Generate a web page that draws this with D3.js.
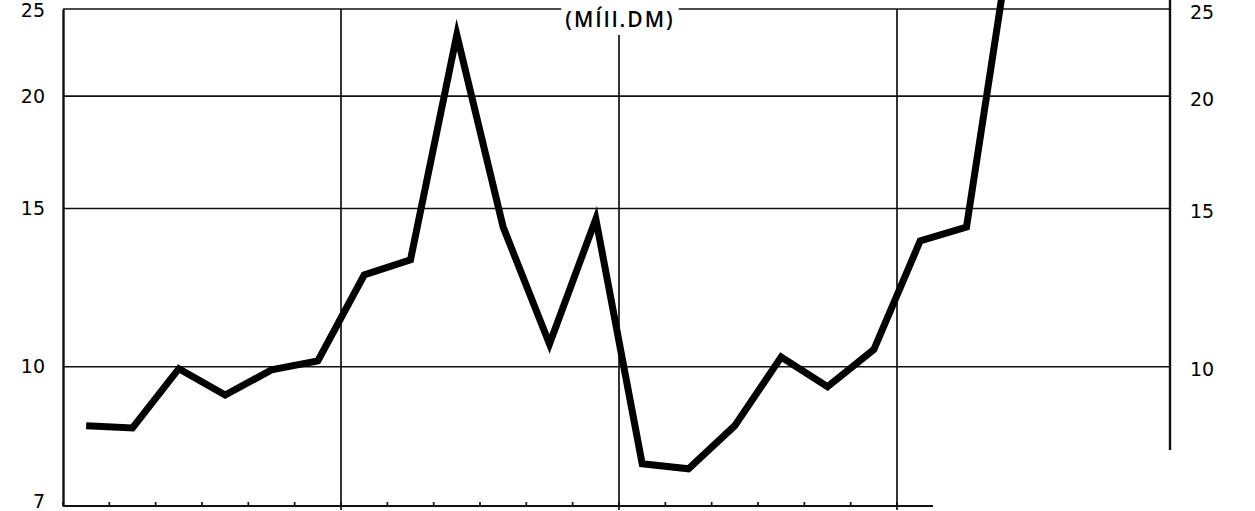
<!DOCTYPE html>
<html>
<head>
<meta charset="utf-8">
<script src="https://cdn.jsdelivr.net/npm/d3@7"></script>
<style>
  html, body { margin: 0; padding: 0; background: #fff; }
  svg { display: block; }
</style>
</head>
<body>
<div id="chart"></div>
<script>
// periods along the x axis (unlabelled in the original)
const periods = d3.range(1, 22).map(String);
// values in millions DM
const values = [8.6, 8.55, 9.95, 9.3, 9.92, 10.15, 12.65, 13.15, 23.4, 14.3, 10.6,
  14.6, 7.8, 7.7, 8.6, 10.25, 9.5, 10.45, 13.8, 14.3, 31];
const leftTicks = [7, 10, 15, 20, 25];
const rightTicks = [10, 15, 20, 25];
const gridTicks = [10, 15, 20, 25];
const titleText = "(MÍll.DM)";

const W = 1255, H = 511;
const left = 63, right = 1170, step = (897 - 63) / 18;

function styleLabels(g) {
  g.selectAll("text")
    .attr("font-family", null).attr("font-size", null)
    .style("font-family", "'DejaVu Sans', sans-serif")
    .style("font-size", "19px")
    .style("fill", "#000");
}

const svg = d3.select("#chart").append("svg")
  .attr("width", W).attr("height", H);

const x = d3.scaleBand()
  .domain(periods)
  .range([left, left + periods.length * step])
  .paddingInner(0).paddingOuter(0);

const y = d3.scaleLog()
  .domain([7, 25])
  .range([506, 9]);

// boundaries between periods
const bounds = periods.slice(0, 19).map((p) => x(p));
const bottomEnd = 933;

// horizontal grid
svg.append("g")
  .selectAll("line")
  .data(gridTicks)
  .enter()
  .append("line")
  .attr("x1", left).attr("x2", right)
  .attr("y1", (d) => y(d)).attr("y2", (d) => y(d))
  .attr("stroke", "#111").attr("stroke-width", 1.6);

// vertical grid every 6 periods
svg.append("g")
  .selectAll("line")
  .data([6, 12, 18])
  .enter()
  .append("line")
  .attr("x1", (k) => bounds[k]).attr("x2", (k) => bounds[k])
  .attr("y1", (k) => (k === 12 ? 35 : y(25)))
  .attr("y2", y(7) + 4)
  .attr("stroke", "#111").attr("stroke-width", 1.7);

// left axis
const leftAxis = d3.axisLeft(y).tickValues(leftTicks).tickSize(0).tickPadding(18)
  .tickFormat(d3.format("d"));
svg.append("g")
  .attr("transform", "translate(" + left + ",0)")
  .call(leftAxis)
  .call((g) => g.select(".domain").attr("stroke", "#111").attr("stroke-width", 2.4))
  .call(styleLabels)
  .call((g) => g.selectAll(".tick").filter((d) => d === 7).select("text").attr("dy", "0.08em"))
  .call((g) => g.selectAll(".tick").filter((d) => d === 25).select("text").attr("dy", "0.38em"));

// right axis, runs off the top of the frame
const rightAxis = d3.axisRight(y).tickValues(rightTicks).tickSize(0).tickPadding(20)
  .tickFormat(d3.format("d"));
svg.append("g")
  .attr("transform", "translate(" + right + ",3)")
  .call(rightAxis)
  .call((g) => g.select(".domain").remove())
  .call(styleLabels);
svg.append("line")
  .attr("x1", right).attr("x2", right)
  .attr("y1", 0).attr("y2", 450)
  .attr("stroke", "#111").attr("stroke-width", 2.4);

// bottom axis with small inward ticks
svg.append("line")
  .attr("x1", left).attr("x2", bottomEnd)
  .attr("y1", y(7)).attr("y2", y(7))
  .attr("stroke", "#111").attr("stroke-width", 2.2);
svg.append("g")
  .selectAll("line")
  .data(bounds)
  .enter()
  .append("line")
  .attr("x1", (d) => d).attr("x2", (d) => d)
  .attr("y1", y(7)).attr("y2", y(7) - 4)
  .attr("stroke", "#111").attr("stroke-width", 1.7);

// title breaking the top grid line
const tg = svg.append("g");
const tt = tg.append("text")
  .attr("x", 620).attr("y", 27)
  .attr("text-anchor", "middle")
  .style("font-family", "'Open Sans', sans-serif")
  .style("font-size", "21px")
  .style("font-weight", 600)
  .style("letter-spacing", "2px")
  .style("fill", "#000")
  .text(titleText);
const bb = tt.node().getBBox();
tg.insert("rect", "text")
  .attr("x", bb.x - 4).attr("y", y(25) - 3)
  .attr("width", bb.width + 8).attr("height", 6)
  .attr("fill", "#fff");

// the series
const line = d3.line()
  .x((d, i) => x(periods[i]) + x.bandwidth() / 2)
  .y((d) => y(d));

svg.append("path")
  .datum(values)
  .attr("d", line)
  .attr("fill", "none")
  .attr("stroke", "#000")
  .attr("stroke-width", 7)
  .attr("stroke-linejoin", "miter")
  .attr("stroke-miterlimit", 10)
  .attr("stroke-linecap", "butt");
</script>
</body>
</html>
